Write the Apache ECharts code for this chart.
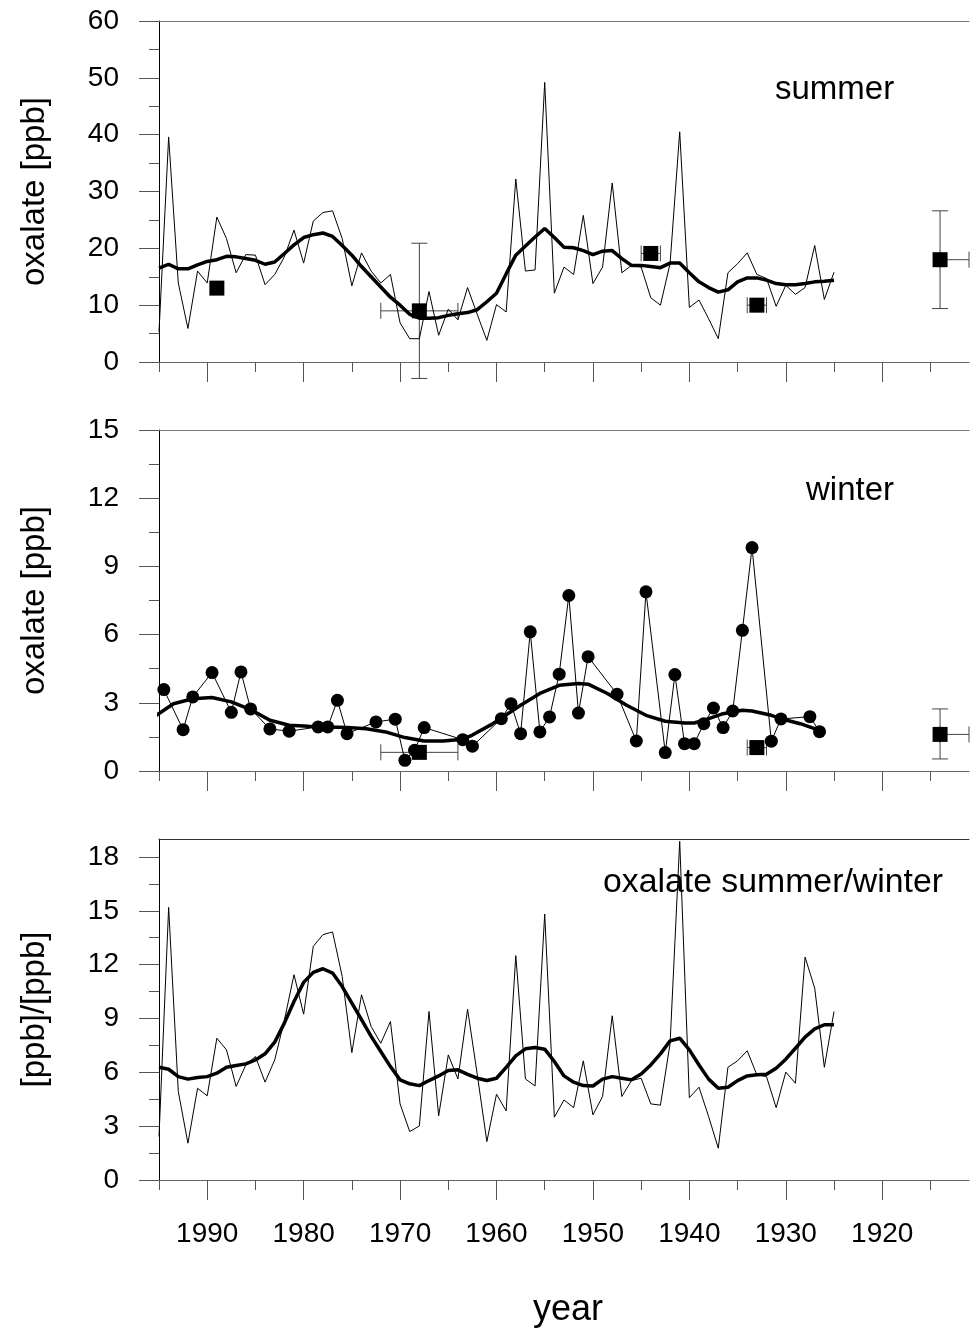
<!DOCTYPE html>
<html><head><meta charset="utf-8">
<script src="https://cdn.jsdelivr.net/npm/echarts@6/dist/echarts.min.js"></script>
<style>html,body{margin:0;padding:0;background:#fff}#c{width:970px;height:1332px}</style>
</head><body><div id="c"></div>
<script>
// ---------- DATA ----------
const annualYears = Array.from({length: 71}, (_, i) => 1995 - i); // 1995 ... 1925

const summerAnnual = [5.3,39.6,13.9,5.9,16.0,13.9,25.5,21.7,15.7,18.9,18.8,13.6,15.4,18.5,23.2,17.4,24.8,26.3,26.6,21.7,13.4,19.2,16.0,13.9,15.4,6.9,4.1,4.1,12.4,4.7,9.3,7.4,13.1,
  8.4,3.8,10.1,8.8,32.2,16.0,16.2,49.2,12.1,16.7,15.4,25.8,13.8,16.7,31.5,15.7,17.0,16.7,11.3,10.0,17.3,40.5,9.6,10.9,7.6,4.1,15.7,17.3,19.2,15.4,14.7,9.8,13.5,11.9,13.1,20.5,11.0,15.8];
const summerSmooth = [16.5,17.2,16.4,16.4,17.1,17.7,18.0,18.6,18.5,18.2,17.9,17.2,17.6,19.1,20.6,21.9,22.4,22.7,22.1,20.5,18.8,16.8,15.0,13.2,11.4,10.0,8.4,7.7,7.7,7.8,8.2,8.5,8.7,
  9.2,10.6,12.1,15.5,18.8,20.4,22.0,23.5,21.9,20.2,20.1,19.6,18.9,19.5,19.6,18.2,17.0,17.0,16.8,16.6,17.4,17.4,15.7,14.1,13.1,12.3,12.7,14.1,14.8,14.8,14.4,13.8,13.6,13.6,13.8,14.1,14.2,14.4];
const summerSqYears = [1989, 1968, 1944, 1933, 1914];
const summerSqValues = [13.0, 9.0, 19.1, 10.0, 18.0];
// vertical error bars: [year, low, high]
const summerYErr = [[1968, -2.9, 20.9], [1914, 9.4, 26.6]];
// horizontal error bars: [value, fromYear, toYear]
const summerXErr = [[9.0, 1972, 1964], [19.1, 1945, 1943], [10.0, 1934, 1932], [18.0, 1914, 1911]];

const winterYears = [1994.5,1992.5,1991.5,1989.5,1987.5,1986.5,1985.5,1983.5,1981.5,1978.5,1977.5,1976.5,1975.5,1972.5,1970.5,1969.5,1968.5,1967.5,1963.5,1962.5,
  1959.5,1958.5,1957.5,1956.5,1955.5,1954.5,1953.5,1952.5,1951.5,1950.5,1947.5,1945.5,1944.5,1942.5,1941.5,1940.5,1939.5,1938.5,1937.5,1936.5,1935.5,1934.5,1933.5,1931.5,1930.5,1927.5,1926.5];
const winterValues = [3.58,1.82,3.26,4.33,2.58,4.36,2.73,1.85,1.75,1.94,1.94,3.11,1.64,2.16,2.28,0.47,0.91,1.91,1.38,1.09,
  2.30,2.96,1.64,6.12,1.72,2.38,4.26,7.72,2.55,5.03,3.38,1.32,7.88,0.81,4.24,1.20,1.20,2.08,2.77,1.91,2.64,6.19,9.83,1.31,2.29,2.39,1.73];
const winterSmoothYears = [1995.5,1993.5,1991.5,1989.5,1987.5,1985.5,1983.5,1981.5,1979.5,1977.5,1975.5,1973.5,1971.5,1969.5,1967.5,1965.5,1963.5,1962.5,1960.5,1959.5,
  1957.5,1955.5,1953.5,1951.5,1950.5,1948.5,1946.5,1944.5,1942.5,1940.5,1939.5,1938.5,1936.5,1934.5,1933.5,1931.5,1930.5,1928.5,1926.5];
const winterSmoothValues = [2.38,2.96,3.18,3.23,3.04,2.70,2.23,2.01,1.97,1.94,1.91,1.86,1.72,1.47,1.32,1.32,1.40,1.58,2.05,2.33,
  2.89,3.41,3.77,3.85,3.82,3.41,2.89,2.45,2.19,2.11,2.11,2.23,2.52,2.67,2.64,2.45,2.30,2.08,1.79];
const winterSqYears = [1968, 1933, 1914];
const winterSqValues = [0.82, 1.03, 1.61];
const winterYErr = [[1914, 0.53, 2.73]];
const winterXErr = [[0.82, 1972, 1964], [1.03, 1934, 1932], [1.61, 1914, 1911]];

const ratioAnnual = [2.42,15.19,4.93,2.05,5.11,4.69,7.90,7.25,5.21,6.41,6.88,5.45,6.69,8.9,11.44,9.24,13.02,13.67,13.82,11.34,7.10,10.32,8.55,7.62,8.83,4.24,2.70,3.01,9.39,3.57,6.97,5.63,9.52,
  5.9,2.14,4.78,3.85,12.50,5.63,5.24,14.82,3.50,4.46,4.03,6.64,3.63,4.65,9.15,4.65,5.54,5.67,4.24,4.17,7.6,18.87,4.59,5.17,3.53,1.77,6.28,6.64,7.20,5.86,5.76,4.03,6.01,5.39,12.42,10.69,6.28,9.39];
const ratioSmooth = [6.28,6.17,5.76,5.62,5.71,5.76,5.95,6.28,6.38,6.47,6.69,7.03,7.68,8.74,9.95,11.01,11.57,11.77,11.53,10.78,9.86,8.93,8.00,7.16,6.32,5.58,5.36,5.26,5.54,5.80,6.10,6.14,5.89,
  5.67,5.54,5.67,6.28,6.92,7.31,7.38,7.29,6.60,5.80,5.45,5.26,5.24,5.62,5.76,5.67,5.58,5.91,6.41,7.03,7.75,7.90,7.25,6.41,5.62,5.11,5.17,5.54,5.80,5.86,5.89,6.23,6.73,7.34,7.96,8.42,8.65,8.65];

const xMajorTicks = [1990, 1980, 1970, 1960, 1950, 1940, 1930, 1920];
const xMinorTicks = [1995, 1985, 1975, 1965, 1955, 1945, 1935, 1925, 1915];
const y1Major = [0, 10, 20, 30, 40, 50, 60];
const y1Minor = [5, 15, 25, 35, 45, 55];
const y2Major = [0, 3, 6, 9, 12, 15];
const y2Minor = [1.5, 4.5, 7.5, 10.5, 13.5];
const y3Major = [0, 3, 6, 9, 12, 15, 18];
const y3Minor = [1.5, 4.5, 7.5, 10.5, 13.5, 16.5];

// ---------- CHART ----------
const FONT = 'Liberation Sans, Arial, Helvetica, sans-serif';
const pairs = (xs, ys) => xs.map((x, i) => [x, ys[i]]);
const plain = v => String(v);
const X_MIN = 1911, X_MAX = 1995;

const grids = [
  {left: 159, right: 1, top: 21, height: 341},
  {left: 159, right: 1, top: 430, height: 341},
  {left: 159, right: 1, top: 839, height: 341}
].map(g => Object.assign(g, {show: false, containLabel: false}));

const xAxes = [], yAxes = [];
const yDefs = [
  {min: 0, max: 60, major: y1Major, minor: y1Minor, name: 'oxalate [ppb]'},
  {min: 0, max: 15, major: y2Major, minor: y2Minor, name: 'oxalate [ppb]'},
  {min: 0, max: 19, major: y3Major, minor: y3Minor, name: '[ppb]/[ppb]'}
];
for (let g = 0; g < 3; g++) {
  xAxes.push({
    type: 'value', gridIndex: g, position: 'bottom', min: X_MIN, max: X_MAX, inverse: true,
    axisLine: {show: true, onZero: false, lineStyle: {color: '#666', width: 1}},
    axisTick: {show: true, length: 20, customValues: xMajorTicks, lineStyle: {color: '#555'}},
    axisLabel: {show: g === 2, customValues: xMajorTicks, formatter: plain, fontSize: 28, color: '#000', margin: 40, fontFamily: FONT},
    splitLine: {show: false},
    name: g === 2 ? 'year' : '', nameLocation: 'middle', nameGap: 112,
    nameTextStyle: {fontSize: 36, color: '#000', fontFamily: FONT, padding: [0, 0, 0, 8]}
  });
  xAxes.push({
    type: 'value', gridIndex: g, position: 'bottom', min: X_MIN, max: X_MAX, inverse: true,
    axisLine: {show: false, onZero: false},
    axisTick: {show: true, length: 10, customValues: xMinorTicks, lineStyle: {color: '#555'}},
    axisLabel: {show: false}, splitLine: {show: false}
  });
  // top frame line
  xAxes.push({
    type: 'value', gridIndex: g, position: 'top', min: X_MIN, max: X_MAX, inverse: true,
    axisLine: {show: true, onZero: false, lineStyle: {color: g === 2 ? '#333' : '#777', width: 1}},
    axisTick: {show: false}, axisLabel: {show: false}, splitLine: {show: false}
  });
  const d = yDefs[g];
  yAxes.push({
    type: 'value', gridIndex: g, position: 'left', min: d.min, max: d.max,
    axisLine: {show: true, onZero: false, lineStyle: {color: '#000', width: 1}},
    axisTick: {show: true, length: 20, customValues: d.major, lineStyle: {color: '#555'}},
    axisLabel: {show: true, customValues: d.major, formatter: plain, fontSize: 28, color: '#000', margin: 40, fontFamily: FONT},
    splitLine: {show: false},
    name: d.name, nameLocation: 'middle', nameRotate: 90, nameGap: 108,
    nameTextStyle: {fontSize: 33, color: '#000', fontFamily: FONT}
  });
  yAxes.push({
    type: 'value', gridIndex: g, position: 'left', min: d.min, max: d.max,
    axisLine: {show: false, onZero: false},
    axisTick: {show: true, length: 10, customValues: d.minor, lineStyle: {color: '#555'}},
    axisLabel: {show: false}, splitLine: {show: false}
  });
}
const XI = g => 3 * g, YI = g => 2 * g;

const errStyle = {stroke: '#444', lineWidth: 1};
function vErr(params, api) {
  const a = api.coord([api.value(0), api.value(1)]);
  const b = api.coord([api.value(0), api.value(2)]);
  const w = 8;
  return {type: 'group', children: [
    {type: 'line', shape: {x1: a[0], y1: a[1], x2: b[0], y2: b[1]}, style: errStyle},
    {type: 'line', shape: {x1: a[0] - w, y1: a[1], x2: a[0] + w, y2: a[1]}, style: errStyle},
    {type: 'line', shape: {x1: b[0] - w, y1: b[1], x2: b[0] + w, y2: b[1]}, style: errStyle}
  ]};
}
function hErr(params, api) {
  const a = api.coord([api.value(1), api.value(0)]);
  const b = api.coord([api.value(2), api.value(0)]);
  const h = 8;
  return {type: 'group', children: [
    {type: 'line', shape: {x1: a[0], y1: a[1], x2: b[0], y2: b[1]}, style: errStyle},
    {type: 'line', shape: {x1: a[0], y1: a[1] - h, x2: a[0], y2: a[1] + h}, style: errStyle},
    {type: 'line', shape: {x1: b[0], y1: b[1] - h, x2: b[0], y2: b[1] + h}, style: errStyle}
  ]};
}
function errSeries(g, vData, hData) {
  return [
    {type: 'custom', xAxisIndex: XI(g), yAxisIndex: YI(g), renderItem: vErr, data: vData,
     encode: {x: 0, y: [1, 2]}, clip: false, z: 3, silent: true},
    {type: 'custom', xAxisIndex: XI(g), yAxisIndex: YI(g), renderItem: hErr, data: hData,
     encode: {x: [1, 2], y: 0}, clip: false, z: 3, silent: true}
  ];
}
function line(g, data, width, extra) {
  return Object.assign({type: 'line', xAxisIndex: XI(g), yAxisIndex: YI(g), data,
    showSymbol: false, symbol: 'none', lineStyle: {color: '#000', width}, itemStyle: {color: '#000', opacity: 1},
    animation: false, silent: true, z: 4}, extra || {});
}
function squares(g, xs, ys) {
  return {type: 'scatter', xAxisIndex: XI(g), yAxisIndex: YI(g), data: pairs(xs, ys),
    symbol: 'rect', symbolSize: 15, itemStyle: {color: '#000', opacity: 1}, z: 6, silent: true, clip: false};
}

const series = [
  line(0, pairs(annualYears, summerAnnual), 1),
  line(0, pairs(annualYears, summerSmooth), 3.5, {z: 5}),
  ...errSeries(0, summerYErr, summerXErr),
  squares(0, summerSqYears, summerSqValues),

  line(1, pairs(winterSmoothYears, winterSmoothValues), 3.5, {z: 4, clip: false}),
  line(1, pairs(winterYears, winterValues), 1, {showSymbol: true, symbol: 'circle', symbolSize: 13, z: 5}),
  ...errSeries(1, winterYErr, winterXErr),
  squares(1, winterSqYears, winterSqValues),

  line(2, pairs(annualYears, ratioAnnual), 1),
  line(2, pairs(annualYears, ratioSmooth), 3.5, {z: 5})
];

const chart = echarts.init(document.getElementById('c'), null, {renderer: 'canvas'});
chart.setOption({
  animation: false,
  backgroundColor: '#fff',
  textStyle: {fontFamily: FONT},
  grid: grids,
  xAxis: xAxes,
  yAxis: yAxes,
  series,
  graphic: [
    {type: 'text', left: 775, top: 73, style: {text: 'summer', fontSize: 33, fill: '#000', fontFamily: FONT}},
    {type: 'text', left: 806, top: 474, style: {text: 'winter', fontSize: 33, fill: '#000', fontFamily: FONT}},
    {type: 'text', left: 603, top: 866, style: {text: 'oxalate summer/winter', fontSize: 33.8, fill: '#000', fontFamily: FONT}}
  ]
});
</script>
</body></html>
